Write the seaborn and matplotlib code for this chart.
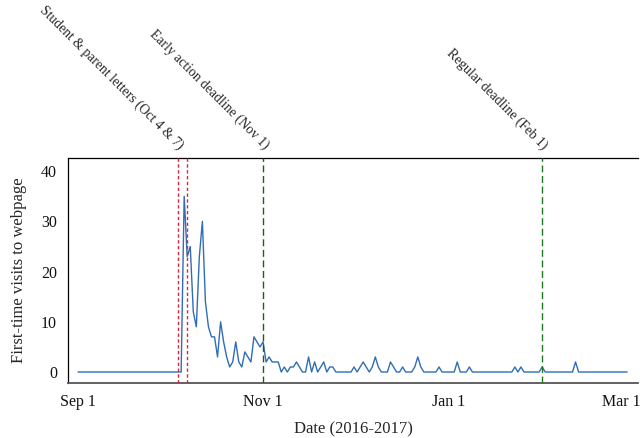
import numpy as np
import pandas as pd
import matplotlib
matplotlib.use("Agg")
import matplotlib.pyplot as plt
import matplotlib.dates as mdates
import matplotlib.transforms as mtransforms
import seaborn as sns

# Daily first-time visits, Sep 1 2016 through Mar 1 2017
start_date = "2016-09-01"
end_date = "2017-03-01"
visits = (
    [0] * 35
    + [35, 23, 25, 12, 9, 23, 30, 14, 9, 7, 7, 3, 10, 6, 3, 1, 2, 6, 2, 1,
       4, 3, 2, 7, 6, 5, 6, 2, 3, 2, 2, 2, 0, 1, 0, 1, 1, 2, 1, 0,
       0, 3, 0, 2, 0, 1, 2, 0, 1, 1]
    + [0] * 6
    + [1, 0, 1, 2, 1, 0, 1, 3, 1, 0, 0, 0, 2, 1, 0, 0, 1, 0, 0, 0,
       1, 3, 1, 0, 0, 0, 0, 0, 1, 0, 0, 0, 0, 0, 2, 0, 0, 0, 1]
    + [0] * 14
    + [1, 0, 1]
    + [0] * 6
    + [1]
    + [0] * 10
    + [2]
    + [0] * 17
)

# Key dates in the admissions calendar
event_dates = ["2016-10-04", "2016-10-07", "2016-11-01", "2017-02-01"]
event_colors = ["#d7263d", "#d7263d", "#1d5e1d", "#1f7a1f"]
event_labels = ["Student & parent letters (Oct 4 & 7)", None,
                "Early action deadline (Nov 1)", "Regular deadline (Feb 1)"]

tick_dates = ["2016-09-01", "2016-11-01", "2017-01-01", "2017-03-01"]
tick_labels = ["Sep 1", "Nov 1", "Jan 1", "Mar 1"]
y_ticks = [0, 10, 20, 30, 40]

dates = pd.date_range(start_date, end_date, freq="D")
df = pd.DataFrame({"date": dates, "visits": visits})

sns.set_style("white")
plt.rcParams["font.family"] = ["Liberation Serif", "DejaVu Serif"]

fig = plt.figure(figsize=(6.43, 4.38), dpi=100)
ax = fig.add_axes([68 / 643, 1 - 383 / 438, 570 / 643, 225 / 438])

sns.lineplot(data=df, x="date", y="visits", ax=ax, color="#2f6db5",
             linewidth=1.0)

trans = mtransforms.blended_transform_factory(ax.transData, ax.transAxes)
for d, c, lab in zip(event_dates, event_colors, event_labels):
    ts = pd.Timestamp(d)
    if c == "#d7263d":
        ax.axvline(ts, color=c, linewidth=1.0, dashes=(2.4, 1.8), zorder=3)
    else:
        ax.axvline(ts, color=c, linewidth=1.0, dashes=(5, 2.6), zorder=3)
    if lab:
        ax.annotate(lab, xy=(mdates.date2num(ts), 1.0), xycoords=trans,
                    xytext=(-1, 4), textcoords="offset points",
                    rotation=-45, rotation_mode="anchor",
                    ha="right", va="bottom", fontsize=9.8,
                    annotation_clip=False)

ax.set_xlim(pd.Timestamp(start_date) - pd.Timedelta(hours=79),
            pd.Timestamp(end_date) + pd.Timedelta(hours=86))
ax.set_ylim(-2.19, 42.63)
ax.set_xticks([pd.Timestamp(t) for t in tick_dates])
ax.set_xticklabels(tick_labels)
ax.set_yticks(y_ticks)
ax.tick_params(axis="both", length=0, labelsize=11.5, colors="#111111")
ax.tick_params(axis="x", pad=8)
ax.tick_params(axis="y", pad=8)

# keep the last date label inside the figure edge
last = ax.get_xticklabels()[-1]
last.set_transform(last.get_transform()
                   + mtransforms.ScaledTranslation(-6 / 100, 0, fig.dpi_scale_trans))

ax.set_xlabel("Date (2016-2017)", fontsize=12, labelpad=8)
ax.set_ylabel("First-time visits to webpage", fontsize=12, labelpad=10)

for side in ["left", "top"]:
    ax.spines[side].set_color("black")
    ax.spines[side].set_linewidth(0.9)
ax.spines["bottom"].set_color("#555555")
ax.spines["bottom"].set_linewidth(1.3)
ax.spines["right"].set_visible(False)

fig.savefig("out.png", dpi=100)
